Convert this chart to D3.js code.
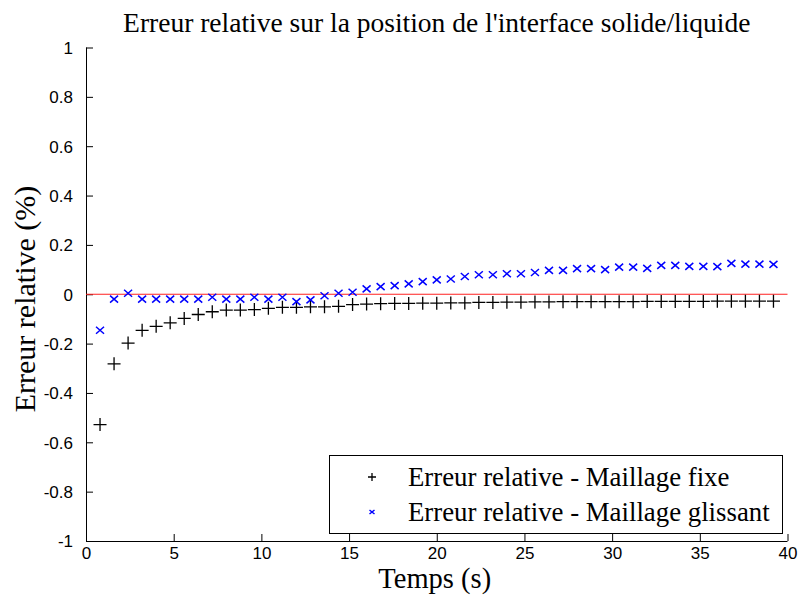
<!DOCTYPE html>
<html lang="fr">
  <head>
    <meta charset="utf-8">
    <style>
      body { margin: 0; background: #fff; }
      .tick text { font-family: "Liberation Sans", Arial, sans-serif; font-size: 17px; fill: #000; }
      .serif { font-family: "Liberation Serif", "Times New Roman", serif; fill: #000; }
      .fixe { stroke: #000; stroke-width: 1.3; fill: none; }
      .glissant { stroke: #0000ff; stroke-width: 1.5; fill: none; }
    </style>
  </head>
  <body>
  </body>
  <script src="https://cdn.jsdelivr.net/npm/d3@7"></script>

  <script>
  var width = 802;
  var height = 600;

  // time (s)
  var temps = [0.8, 1.6, 2.4, 3.2, 4.0, 4.8, 5.6, 6.4, 7.2, 8.0,
    8.8, 9.6, 10.4, 11.2, 12.0, 12.8, 13.6, 14.4, 15.2, 16.0,
    16.8, 17.6, 18.4, 19.2, 20.0, 20.8, 21.6, 22.4, 23.2, 24.0,
    24.8, 25.6, 26.4, 27.2, 28.0, 28.8, 29.6, 30.4, 31.2, 32.0,
    32.8, 33.6, 34.4, 35.2, 36.0, 36.8, 37.6, 38.4, 39.2];

  // erreur relative (%) - maillage fixe
  var erreurFixe = [-0.528, -0.282, -0.198, -0.146, -0.130, -0.116, -0.098, -0.082, -0.071, -0.064,
    -0.064, -0.062, -0.057, -0.053, -0.053, -0.051, -0.051, -0.049, -0.042, -0.040,
    -0.038, -0.037, -0.037, -0.036, -0.036, -0.035, -0.035, -0.033, -0.033, -0.032,
    -0.032, -0.031, -0.031, -0.030, -0.030, -0.030, -0.030, -0.030, -0.030, -0.029,
    -0.029, -0.029, -0.029, -0.029, -0.028, -0.028, -0.028, -0.028, -0.028];

  // erreur relative (%) - maillage glissant
  var erreurGlissant = [-0.146, -0.020, 0.004, -0.020, -0.020, -0.020, -0.020, -0.020, -0.012, -0.020,
    -0.020, -0.012, -0.020, -0.012, -0.030, -0.023, -0.006, 0.004, 0.008, 0.022,
    0.031, 0.035, 0.042, 0.051, 0.058, 0.062, 0.072, 0.079, 0.079, 0.083,
    0.083, 0.088, 0.097, 0.097, 0.104, 0.104, 0.100, 0.110, 0.110, 0.105,
    0.117, 0.117, 0.113, 0.113, 0.112, 0.125, 0.122, 0.122, 0.121];

  var xTicks = [0, 5, 10, 15, 20, 25, 30, 35, 40];
  var yTicks = [-1, -0.8, -0.6, -0.4, -0.2, 0, 0.2, 0.4, 0.6, 0.8, 1];

  var titre = "Erreur relative sur la position de l'interface solide/liquide";
  var labelX = "Temps (s)";
  var labelY = "Erreur relative (%)";
  var legende = ["Erreur relative - Maillage fixe", "Erreur relative - Maillage glissant"];

  // plot area (careful: "top" is taken by window)
  var plotLeft = 86, plotRight = 787.5, plotTop = 47.5, plotBottom = 541;

  var svg = d3.select("body")
    .append("svg")
    .attr('width', width)
    .attr('height', height);

  var x = d3.scaleLinear().domain([0, 40]).range([plotLeft, plotRight]);
  var y = d3.scaleLinear().domain([-1, 1]).range([plotBottom, plotTop]);

  // plain hyphen for negatives, like matlab
  var fmt = function(d) { return String(d); };

  // axes with inward ticks, no box
  var xAxis = svg.append("g")
    .attr("transform", "translate(0," + plotBottom + ")")
    .call(d3.axisBottom(x).tickValues(xTicks).tickSize(-7).tickPadding(15).tickFormat(fmt));
  var yAxis = svg.append("g")
    .attr("transform", "translate(" + plotLeft + ",0)")
    .call(d3.axisLeft(y).tickValues(yTicks).tickSize(-7).tickPadding(13).tickFormat(fmt));

  xAxis.select(".domain").attr("d", "M" + plotLeft + ",0.5H" + plotRight);
  yAxis.select(".domain").attr("d", "M0.5," + plotTop + "V" + plotBottom);
  svg.selectAll(".domain").attr("stroke", "#000");
  svg.selectAll(".tick line").attr("stroke", "#000");
  xAxis.selectAll(".tick text").attr("dy", "0.2em");
  yAxis.selectAll(".tick text").attr("dy", "0.35em");

  // zero reference line
  svg.append("line")
    .attr("x1", x(0)).attr("x2", x(40))
    .attr("y1", y(0)).attr("y2", y(0))
    .attr("stroke", "#ff2020")
    .attr("stroke-width", 1.2);

  var plus = "M-6.5,0H6.5M0,-6.5V6.5";
  var croix = "M-4,-3.5L4,3.5M-4,3.5L4,-3.5";

  svg.append("g").selectAll("path")
    .data(temps)
    .enter().append("path")
    .attr("class", "fixe")
    .attr("d", plus)
    .attr("transform", function(d, i) { return "translate(" + x(d) + "," + y(erreurFixe[i]) + ")"; });

  svg.append("g").selectAll("path")
    .data(temps)
    .enter().append("path")
    .attr("class", "glissant")
    .attr("d", croix)
    .attr("transform", function(d, i) { return "translate(" + x(d) + "," + y(erreurGlissant[i]) + ")"; });

  // title and labels
  svg.append("text")
    .attr("class", "serif")
    .attr("x", (plotLeft + plotRight) / 2)
    .attr("y", 32)
    .attr("text-anchor", "middle")
    .style("font-size", "27.5px")
    .text(titre);

  svg.append("text")
    .attr("class", "serif")
    .attr("x", (plotLeft + plotRight) / 2 - 2)
    .attr("y", 588)
    .attr("text-anchor", "middle")
    .style("font-size", "28.5px")
    .text(labelX);

  svg.append("text")
    .attr("class", "serif")
    .attr("transform", "translate(35,299) rotate(-90)")
    .attr("text-anchor", "middle")
    .style("font-size", "30px")
    .text(labelY);

  // legend
  var leg = svg.append("g");
  leg.append("rect")
    .attr("x", 329.5).attr("y", 455.5)
    .attr("width", 453).attr("height", 78)
    .attr("fill", "#fff")
    .attr("stroke", "#000");

  var legY = [477, 512];
  leg.append("path").attr("class", "fixe")
    .attr("d", "M-4,0H4M0,-4V4")
    .attr("transform", "translate(372," + legY[0] + ")");
  leg.append("path").attr("class", "glissant")
    .attr("d", "M-2.5,-2L2.5,2M-2.5,2L2.5,-2")
    .attr("stroke-width", 1)
    .attr("transform", "translate(372," + legY[1] + ")");

  leg.selectAll("text.leg")
    .data(legende)
    .enter().append("text")
    .attr("class", "serif leg")
    .attr("x", 408)
    .attr("y", function(d, i) { return legY[i] + 8.5; })
    .style("font-size", "26.8px")
    .text(function(d) { return d; });

  </script>
</html>
